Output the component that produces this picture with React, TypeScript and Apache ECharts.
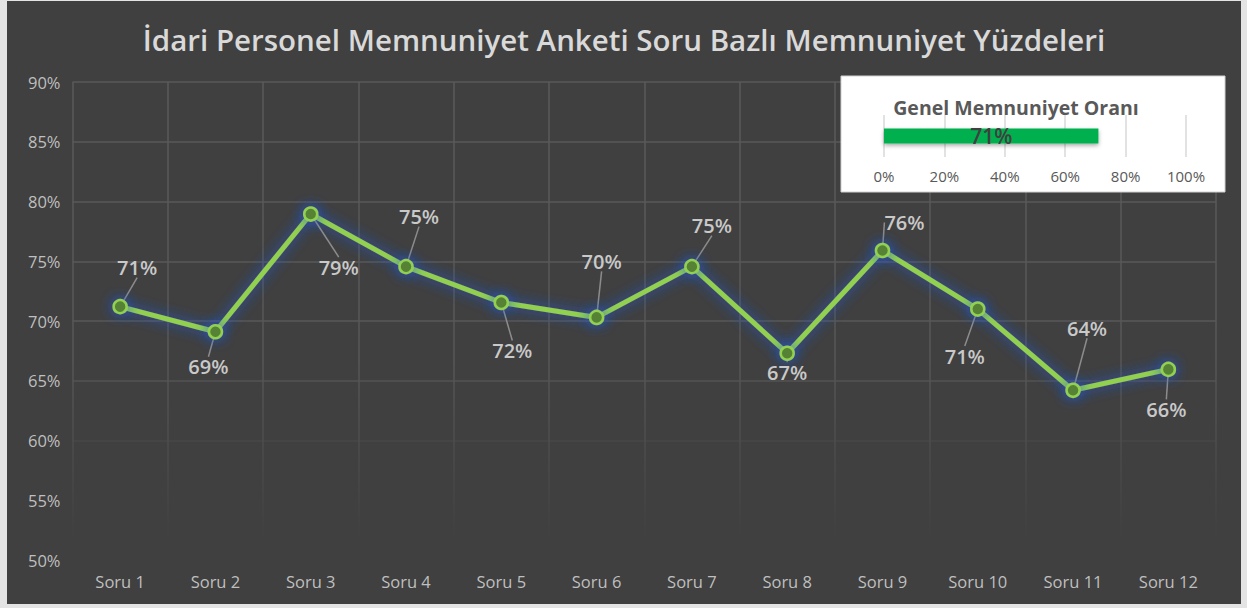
import React, { useEffect, useRef } from "react";
import * as echarts from "echarts";

const TITLE = "İdari Personel Memnuniyet Anketi Soru Bazlı Memnuniyet Yüzdeleri";
const categories = ["Soru 1", "Soru 2", "Soru 3", "Soru 4", "Soru 5", "Soru 6", "Soru 7", "Soru 8", "Soru 9", "Soru 10", "Soru 11", "Soru 12"];
const values = [71.2, 69.1, 78.95, 74.55, 71.55, 70.3, 74.55, 67.3, 75.9, 71.0, 64.2, 65.95];
// label offsets (px) relative to each point
const labelDx = [17, -7, 28, 13, 11, 5, 20, 0, 22, -13, 14, -2];
const labelDy = [-39, 35, 53, -50, 48, -56, -41, 19, -28, 47, -62, 40];

const INSET_TITLE = "Genel Memnuniyet Oranı";
const insetCategory = ["Genel"];
const insetValue = [71];
const yTicks = [50, 55, 60, 65, 70, 75, 80, 85, 90];

export default function App() {
  const ref = useRef<HTMLDivElement>(null);
  useEffect(() => {
    if (!ref.current) return;
    const chart = echarts.init(ref.current, null, { renderer: "svg" });
    const vGrad = new echarts.graphic.LinearGradient(0, 81, 0, 540, [
      { offset: 0, color: "#5a5a5a" },
      { offset: 0.6, color: "#575757" },
      { offset: 1, color: "#404040" },
    ], true);
    chart.setOption({
      animation: false,
      backgroundColor: "#404040",
      title: {
        text: TITLE,
        left: "center",
        top: 18,
        textStyle: { color: "#d9d9d9", fontSize: 29.5, fontWeight: 600, fontFamily: "Open Sans" },
      },
      graphic: [
        {
          type: "rect",
          z: 1,
          shape: { x: 834, y: 75, width: 384, height: 116 },
          style: { fill: "#ffffff", stroke: "#d0d0d0", lineWidth: 1 },
        },
        {
          type: "text",
          z: 6,
          x: 1009,
          y: 106,
          style: {
            text: INSET_TITLE,
            fill: "#595959",
            font: "bold 19.5px 'Open Sans'",
            align: "center",
            verticalAlign: "middle",
          },
        },
      ],
      grid: [
        { left: 65.5, right: 25, top: 81, bottom: 44 },
        { left: 877, width: 302, top: 114, height: 42 },
      ],
      xAxis: [
        {
          type: "category",
          gridIndex: 0,
          data: categories,
          boundaryGap: true,
          axisLine: { show: false },
          axisTick: { show: false },
          axisLabel: { color: "#bfbfbf", fontSize: 16.5, fontFamily: "Open Sans", margin: 13 },
          splitLine: { show: true, lineStyle: { color: vGrad, width: 1.5 } },
        },
        {
          type: "value",
          gridIndex: 1,
          min: 0,
          max: 100,
          interval: 20,
          z: 3,
          axisLine: { show: false },
          axisTick: { show: false },
          axisLabel: { color: "#595959", fontSize: 15, fontFamily: "Open Sans", margin: 11, formatter: "{value}%" },
          splitLine: { show: true, lineStyle: { color: "#d9d9d9", width: 1.5 } },
        },
      ],
      yAxis: [
        {
          type: "value",
          gridIndex: 0,
          min: yTicks[0],
          max: yTicks[yTicks.length - 1],
          interval: 5,
          axisLine: { show: false },
          axisTick: { show: false },
          axisLabel: { color: "#bfbfbf", fontSize: 16.5, fontFamily: "Open Sans", margin: 12, formatter: "{value}%" },
          splitLine: {
            show: true,
            lineStyle: {
              width: 1.5,
              color: ["rgba(0,0,0,0)", "rgba(0,0,0,0)", "#474747", "#535353", "#595959", "#595959", "#595959", "#595959", "#595959"],
            },
          },
        },
        {
          type: "category",
          gridIndex: 1,
          data: insetCategory,
          z: 3,
          axisLine: { show: false },
          axisTick: { show: false },
          axisLabel: { show: false },
          splitLine: { show: false },
        },
      ],
      series: [
        {
          type: "line",
          xAxisIndex: 0,
          yAxisIndex: 0,
          data: values,
          z: 2,
          symbol: "circle",
          symbolSize: 13,
          lineStyle: {
            color: "#92d050",
            width: 5,
            shadowColor: "rgba(30,85,220,0.95)",
            shadowBlur: 14,
          },
          itemStyle: {
            color: "#548235",
            borderColor: "#92d050",
            borderWidth: 2.5,
            shadowColor: "rgba(30,85,220,0.95)",
            shadowBlur: 14,
          },
          label: {
            show: true,
            position: "inside",
            color: "#c9c9c9",
            fontSize: 20,
            fontWeight: 600,
            fontFamily: "Open Sans",
            formatter: (p: any) => Math.round(p.value) + "%",
          },
          labelLine: { show: true, lineStyle: { color: "#8c8c8c", width: 1.5 } },
          labelLayout: (p: any) => ({ dx: labelDx[p.dataIndex], dy: labelDy[p.dataIndex] }),
        },
        {
          type: "bar",
          xAxisIndex: 1,
          yAxisIndex: 1,
          data: insetValue,
          z: 4,
          barWidth: 15,
          itemStyle: {
            color: "#00b050",
            shadowColor: "rgba(0,0,0,0.35)",
            shadowBlur: 4,
            shadowOffsetY: 2,
          },
          label: {
            show: true,
            position: "inside",
            color: "#404040",
            fontSize: 21,
            fontWeight: 600,
            fontFamily: "Open Sans",
            formatter: "{c}%",
          },
        },
      ],
    });
    return () => chart.dispose();
  }, []);
  return (
    <div style={{ position: "fixed", left: 0, top: 0, width: 1247, height: 608, background: "#e4e4e4" }}>
      <div ref={ref} style={{ position: "absolute", left: 7, top: 1, width: 1234, height: 603 }} />
    </div>
  );
}
